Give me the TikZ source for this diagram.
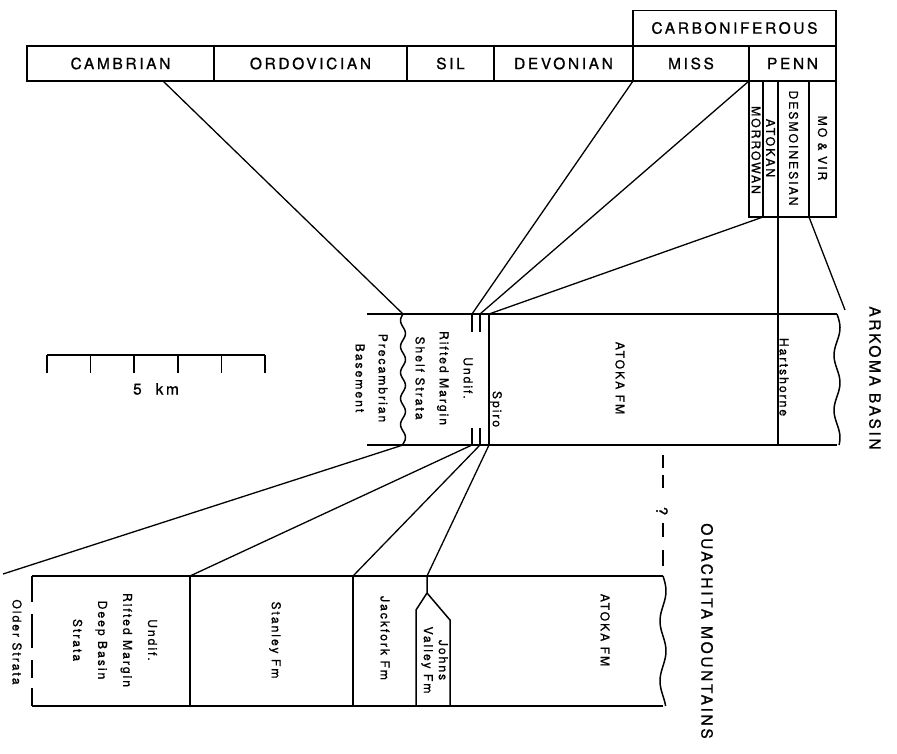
\documentclass[tikz,border=0pt]{standalone}
\usepackage{fontspec}
\setmainfont{TeX Gyre Heros}
\newfontfamily\trkB[LetterSpace=17,FakeBold=0.9]{TeX Gyre Heros}
\newfontfamily\trkS[LetterSpace=16,FakeBold=0.8]{TeX Gyre Heros}
\begin{document}
\begin{tikzpicture}[x=1pt,y=-1pt,line width=1.5pt,
  cell/.style={draw, minimum height=35pt, inner sep=0pt, font=\trkB\fontsize{15.5}{17}\selectfont},
  big/.style={inner sep=0pt, font=\trkB\fontsize{15.5}{17}\selectfont},
  sm/.style={inner sep=0pt, font=\trkS\fontsize{12.2}{14}\selectfont},
  vt/.style={rotate=-90},
  conn/.style={line width=1.3pt}]
\useasboundingbox[fill=white] (0,0) rectangle (897,753);
% ---- time scale ----
\node[cell, minimum width=203pt] (carb) at (734.5,28) {CARBONIFEROUS};
\node[cell, minimum width=187pt] (cam) at (120.5,63.5) {CAMBRIAN};
\node[cell, minimum width=193pt] (ord) at (310.5,63.5) {ORDOVICIAN};
\node[cell, minimum width=87pt] (sil) at (450.5,63.5) {SIL};
\node[cell, minimum width=139pt] (dev) at (563.5,63.5) {DEVONIAN};
\node[cell, minimum width=116pt] (mis) at (691,63.5) {MISS};
\node[cell, minimum width=87pt] (pen) at (792.5,63.5) {PENN};
% Penn subdivisions
\draw (749,81) rectangle (836,217);
\draw (763,81) -- (763,217);
\draw (809,81) -- (809,217);
\node[sm,vt] (mor) at (756,150) {MORROWAN};
\node[sm,vt] (ato) at (770.5,148) {ATOKAN};
\node[sm,vt] (des) at (793.5,148) {DESMOINESIAN};
\node[sm,vt] (mov) at (822.5,148) {MO \& VIR};
% ---- coordinates ----
\coordinate (cambase) at (163,81);
\coordinate (devmiss) at (633,81);
\coordinate (misspenn) at (749,81);
\coordinate (morat) at (763,217);
\coordinate (movbase) at (809,217);
\coordinate (pct) at (403,314);
\coordinate (u1t) at (472,314);
\coordinate (u2t) at (480,314);
\coordinate (spt) at (489,314);
\coordinate (hrt) at (845,310);
\coordinate (pcb) at (403,445);
\coordinate (u1b) at (472,445);
\coordinate (u2b) at (480,445);
\coordinate (spb) at (489,445);
\coordinate (old) at (3,574);
\coordinate (stt) at (190,576);
\coordinate (jkt) at (353,576);
\coordinate (jvt) at (427,576);
% ---- Arkoma column ----
\draw (367,314) -- (837,314);
\draw (367,445) -- (837,445);
\draw plot[smooth, domain=314:445, samples=50, variable=\t] ({837+3*sin((\t-314)/55*360)}, \t);
\draw plot[smooth, domain=314:445, samples=80, variable=\t] ({403-2.5*sin((\t-314)/26*360)}, \t);
\draw (778,81) -- (778,445);
\draw (spt) -- (spb);
\draw (u1t) -- (472,332) (u2t) -- (480,332);
\draw (472,428) -- (u1b) (480,428) -- (u2b);
\node[sm,vt] (hart) at (784,377) {Hartshorne};
\node[sm,vt] (atoA) at (620,378) {ATOKA FM};
\node[sm,vt] (spiro) at (496,409) {Spiro};
\node[sm,vt,align=center,font=\trkS\fontsize{12.2}{24}\selectfont] (shelf) at (444,378) {Undif.\\Rifted Margin\\Shelf Strata};
\node[sm,vt,align=center,font=\trkS\fontsize{12.2}{23}\selectfont] (prec) at (371.5,378) {Precambrian\\Basement};
\node[big,vt] (ark) at (875,378) {ARKOMA BASIN};
% connectors top
\draw[conn] (cambase) -- (pct);
\draw[conn] (devmiss) -- (u1t);
\draw[conn] (misspenn) -- (u2t);
\draw[conn] (morat) -- (spt);
\draw[conn] (movbase) -- (hrt);
% connectors bottom
\draw[conn] (pcb) -- (old);
\draw[conn] (u1b) -- (stt);
\draw[conn] (u2b) -- (jkt);
\draw[conn] (spb) -- (jvt);
% ---- correlation dashes ----
\draw (663,455) -- (663,468) (663,475) -- (663,488) (663,523) -- (663,537) (663,550) -- (663,566);
\node[big,vt] (q) at (662,511) {?};
% ---- Ouachita column ----
\draw (32,576) -- (663,576);
\draw (32,706) -- (663,706);
\draw plot[smooth, domain=576:706, samples=50, variable=\t] ({663+3*sin((\t-576)/60*360)}, \t);
\draw (32,576) -- (32,602) (32,614) -- (32,648) (32,660) -- (32,678) (32,688) -- (32,706);
\draw (stt) -- (190,706);
\draw (jkt) -- (353,706);
\draw (jvt) -- (427,593) -- (416,610) -- (416,706);
\draw (427,593) -- (450,620) -- (450,706);
\node[sm,vt] (atoO) at (605,630) {ATOKA FM};
\node[sm,vt,align=center,font=\trkS\fontsize{12.2}{15}\selectfont] (jv) at (434.5,660) {Johns\\Valley Fm};
\node[sm,vt] (jack) at (385,638) {Jackfork Fm};
\node[sm,vt] (stan) at (275,640) {Stanley Fm};
\node[sm,vt,align=center,font=\trkS\fontsize{12.2}{25}\selectfont] (deep) at (115,640) {Undif.\\Rifted Margin\\Deep Basin\\Strata};
\node[sm,vt] (older) at (17,642) {Older Strata};
\node[big,vt] (oua) at (707,631) {OUACHITA MOUNTAINS};
% ---- scale bar ----
\draw (47,355) -- (265,355);
\foreach \k in {47,90.6,134.2,177.8,221.4,265} \draw (\k,355) -- (\k,373);
\node[big] (km) at (156,389) {5~~km};
\end{tikzpicture}
\end{document}
